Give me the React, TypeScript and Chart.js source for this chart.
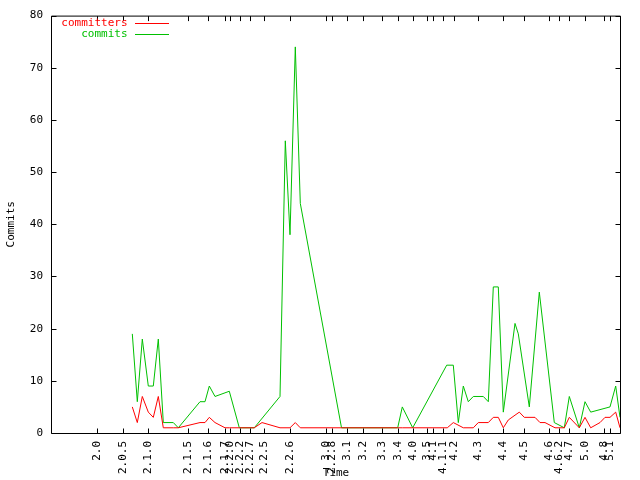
import React, { useEffect, useRef } from "react";
import { Chart, registerables } from "chart.js";

Chart.register(...registerables);

const FONT = "'DejaVu Sans Mono', 'Liberation Mono', monospace";

// release tick positions on the time axis (months) and their labels
const releaseTimes = [
  9.06, 14.14, 19.26, 27.26, 31.26, 34.6, 35.6, 37.6, 39.6, 42.4, 47.6, 54.8, 55.94,
  58.94, 62.2, 65.94, 69.14, 72.14, 74.94, 76.14, 78.26, 80.4, 85.26, 90.26, 94.46,
  99.46, 101.46, 103.46, 106.6, 110.46, 111.6,
];
const releaseLabels = [
  "2.0", "2.0.5", "2.1.0", "2.1.5", "2.1.6", "2.1.7", "2.2.0", "2.2.2", "2.2.7", "2.2.5",
  "2.2.6", "3.0", "2.2.8", "3.1", "3.2", "3.3", "3.4", "4.0", "3.5", "4.1", "4.1.1", "4.2",
  "4.3", "4.4", "4.5", "4.6", "4.6.2", "4.7", "5.0", "4.8", "5.1",
];

const commitTimes = [
  16.06, 17.06, 18.06, 19.26, 20.26, 21.26, 22.26, 24.26, 25.26, 29.6, 30.6, 31.46, 32.6,
  35.46, 37.46, 40.46, 45.6, 46.66, 47.6, 48.66, 49.66, 57.9, 69.14, 70.06, 72.14, 78.94,
  80.26, 81.26, 82.26, 83.26, 84.26, 86.26, 87.26, 88.26, 89.26, 90.26, 92.6, 93.26, 95.46,
  97.46, 100.46, 102.46, 103.46, 105.46, 106.6, 107.74, 111.6, 112.74, 113.6,
];
const commitValues = [
  19, 6, 18, 9, 9, 18, 2, 2, 1, 6, 6, 9, 7,
  8, 1, 1, 7, 56, 38, 74, 44, 1, 1, 5, 1, 13,
  13, 2, 9, 6, 7, 7, 6, 28, 28, 4, 21, 19, 5,
  27, 2, 1, 7, 1, 6, 4, 5, 9, 3,
];

const committerTimes = [
  16.06, 17.06, 18.06, 19.26, 20.26, 21.26, 22.26, 24.26, 25.26, 29.6, 30.6, 31.46, 32.6,
  34.6, 35.46, 37.46, 40.46, 42.0, 45.6, 47.6, 48.66, 49.66, 57.9, 69.14, 70.06, 72.14,
  79.06, 80.26, 82.26, 84.26, 85.26, 87.26, 88.26, 89.26, 90.26, 91.26, 93.46, 94.46,
  96.6, 97.6, 98.6, 100.6, 102.46, 103.46, 105.46, 106.6, 107.74, 109.6, 110.6, 111.6,
  112.74, 113.6,
];
const committerValues = [
  5, 2, 7, 4, 3, 7, 1, 1, 1, 2, 2, 3, 2,
  1, 1, 1, 1, 2, 1, 1, 2, 1, 1, 1, 1, 1,
  1, 2, 1, 1, 2, 2, 3, 3, 1, 2.5, 4, 3,
  3, 2, 2, 1, 1, 3, 1, 3, 1, 2, 3, 3,
  4, 1,
];

const yMin = 0;
const yMax = 80;
const yStep = 10;

const seriesNames = ["committers", "commits"];
const seriesColors = ["#ff0000", "#00c000"];

const framePlugin = {
  id: "gnuframe",
  afterDraw(chart: any) {
    const { ctx, chartArea, scales } = chart;
    const L = 51.5, R = 620.5, T = chartArea.top + 0.5, B = chartArea.bottom + 0.5;
    ctx.save();
    ctx.strokeStyle = "#000";
    ctx.lineWidth = 1;
    ctx.beginPath();
    ctx.rect(L, T, R - L, B - T);
    const tl = 5;
    scales.y.ticks.forEach((t: any) => {
      const y = Math.round(scales.y.getPixelForValue(t.value)) + 0.5;
      ctx.moveTo(L, y); ctx.lineTo(L + tl, y);
      ctx.moveTo(R, y); ctx.lineTo(R - tl, y);
    });
    scales.x.ticks.forEach((t: any) => {
      const x = Math.round(scales.x.getPixelForValue(t.value)) + 0.5;
      ctx.moveTo(x, B); ctx.lineTo(x, B - tl);
      ctx.moveTo(x, T); ctx.lineTo(x, T + tl);
    });
    ctx.stroke();

    // legend
    ctx.font = `11px ${FONT}`;
    ctx.textAlign = "right";
    ctx.textBaseline = "middle";
    seriesNames.forEach((name, i) => {
      const y = 23.5 + i * 11;
      ctx.fillStyle = seriesColors[i];
      ctx.fillText(name, 127.5, y);
      ctx.strokeStyle = seriesColors[i];
      ctx.beginPath();
      ctx.moveTo(135, y);
      ctx.lineTo(169, y);
      ctx.stroke();
    });
    ctx.restore();
  },
};

export default function App() {
  const ref = useRef<HTMLCanvasElement | null>(null);

  useEffect(() => {
    document.body.style.margin = "0";
    const canvas = ref.current;
    if (!canvas) return;
    const chart = new Chart(canvas, {
      type: "line",
      data: {
        datasets: [
          {
            label: seriesNames[0],
            data: committerTimes.map((t, i) => ({ x: t, y: committerValues[i] })),
            borderColor: seriesColors[0],
            backgroundColor: seriesColors[0],
          },
          {
            label: seriesNames[1],
            data: commitTimes.map((t, i) => ({ x: t, y: commitValues[i] })),
            borderColor: seriesColors[1],
            backgroundColor: seriesColors[1],
          },
        ],
      },
      options: {
        animation: false,
        responsive: false,
        maintainAspectRatio: false,
        layout: { padding: { top: 13, right: 20, left: 0, bottom: 0 } },
        elements: {
          point: { radius: 0, hoverRadius: 0 },
          line: { borderWidth: 1, tension: 0, fill: false },
        },
        plugins: { legend: { display: false }, tooltip: { enabled: false } },
        scales: {
          x: {
            type: "linear",
            min: 0,
            max: 113.6,
            grid: { display: false, drawTicks: false },
            border: { display: false },
            afterBuildTicks: (s: any) => {
              s.ticks = releaseTimes.map((v) => ({ value: v }));
            },
            afterFit: (s: any) => {
              s.height = 47;
            },
            ticks: {
              autoSkip: false,
              minRotation: 90,
              maxRotation: 90,
              padding: 8,
              color: "#000",
              font: { family: FONT, size: 11 },
              callback: (_v: any, i: number) => releaseLabels[i],
            },
            title: {
              display: true,
              text: "Time",
              color: "#000",
              font: { family: FONT, size: 11 },
              padding: { top: 0, bottom: 0 },
            },
          },
          y: {
            min: yMin,
            max: yMax,
            grid: { display: false, drawTicks: false },
            border: { display: false },
            afterFit: (s: any) => {
              s.width = 52;
            },
            ticks: {
              stepSize: yStep,
              padding: 9,
              color: "#000",
              font: { family: FONT, size: 11 },
            },
            title: {
              display: true,
              text: "Commits",
              color: "#000",
              font: { family: FONT, size: 11 },
              padding: { top: 5, bottom: 0 },
            },
          },
        },
      } as any,
      plugins: [framePlugin],
    });
    return () => chart.destroy();
  }, []);

  return (
    <div style={{ position: "absolute", left: 0, top: 0, width: 640, height: 480, background: "#fff" }}>
      <canvas ref={ref} width={640} height={480} style={{ display: "block" }} />
    </div>
  );
}
